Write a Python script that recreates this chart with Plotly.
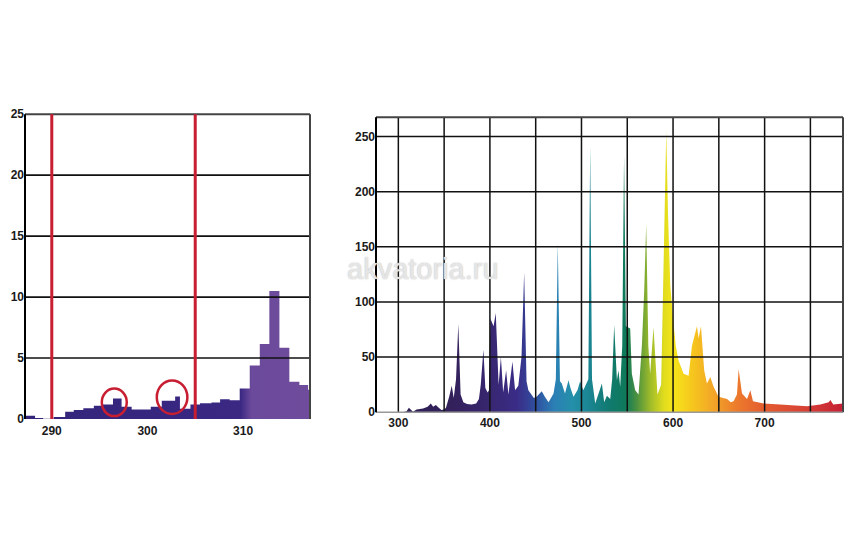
import plotly.graph_objects as go

W, H = 849, 541

# ---------------- Left panel: UV detail histogram ----------------
uv_edges = [287.2, 288.25, 289.1, 290.2, 291.4, 292.3, 293.3, 294.4, 295.2, 296.4,
            297.3, 298.35, 300.35, 301.5, 302.9, 303.4, 304.5, 305.5, 306.7, 307.6,
            308.6, 309.65, 310.7, 311.75, 312.75, 313.8, 314.84, 315.89, 316.8, 317.0]
uv_heights = [0.27, 0.08, 0.03, 0.17, 0.6, 0.75, 0.88, 1.1, 1.2, 1.68,
              1.0, 0.78, 1.0, 1.5, 1.85, 0.85, 1.2, 1.3, 1.36, 1.63,
              1.55, 2.5, 4.4, 6.15, 10.5, 5.85, 3.05, 2.8, 2.4]
uv_xticks = [290, 300, 310]
uv_yticks = [0, 5, 10, 15, 20, 25]
uv_red_lines = [290, 305]
# circles: (x0, x1, y0, y1) in data units
uv_circles = [(295.23, 297.84, 0.24, 2.5), (300.98, 304.18, 0.42, 3.17)]

# ---------------- Right panel: full spectrum ----------------
spec_wl = [305, 309, 311.5, 314, 316, 320, 327, 332, 335.5, 338, 341, 343.5, 347, 350, 352,
           355.5, 358.3, 360.5, 363, 365.5, 368, 371, 375, 380, 385, 388, 390, 392.9, 395,
           397.5, 399, 400.5, 402.5, 404, 406.4, 408.5, 409.5, 412, 414.5, 417.7, 420.2,
           424.6, 427.5, 431, 434.5, 437.4, 440, 442, 445.7, 448, 451, 456.6, 460, 464,
           467.5, 469.5, 472, 474.1, 476.5, 478.5, 482, 485.8, 488, 491.3, 495.6, 498.5,
           502, 505.6, 507.5, 509.5, 511.5, 515, 518.6, 522.3, 524.8, 527.8, 531.4, 533.5,
           535.7, 538.7, 540.4, 542.3, 544.5, 546.5, 548.5, 551.4, 553.2, 555, 558.7, 562.3,
           566, 568.5, 570.7, 573, 575, 578.7, 581, 583, 587, 589.5, 592.6, 594.5, 597,
           600, 603, 606, 611.5, 617, 620.6, 626.1, 627.9, 630.5, 634, 637, 640.7, 644.3,
           649.7, 659, 663, 666.1, 669.8, 671.6, 675.3, 680.8, 684.4, 687.3, 698.9, 717,
           746.3, 760.9, 770, 771.8, 775, 786]
spec_val = [0, 1, 4, 1.5, 0.5, 2.5, 3.5, 5, 8, 5, 6.5, 4.5, 2, 2.5, 4,
            14, 24, 13, 30, 80, 16, 9, 7.5, 7, 8, 12, 25, 57, 22,
            18, 20, 85, 80, 78, 90, 40, 25, 50, 18, 38, 16,
            46, 20, 24, 50, 127, 28, 20, 15, 13, 14, 19, 14, 9,
            14, 17, 30, 153, 28, 26, 17, 29, 22, 14, 20, 28,
            20, 26, 30, 242, 30, 8, 17, 26, 9, 15, 12, 30,
            79, 29, 38, 23, 60, 233, 78, 77, 76, 35, 20, 16,
            61, 110, 171, 60, 35, 77, 40, 16, 25, 120, 255, 180, 115,
            85, 60, 47, 35, 33, 60, 78, 67, 78, 38, 26, 32, 23,
            14, 12, 9, 10, 16, 39, 17, 12, 20, 10, 8, 7,
            5.5, 7, 9, 11, 7, 8]
spec_xticks = [300, 400, 500, 600, 700]
spec_yticks = [0, 50, 100, 150, 200, 250]
spec_xgrid = [300, 350, 400, 450, 500, 550, 600, 650, 700, 750]
spec_ygrid = [50, 100, 150, 200, 250]

# wavelength -> colour stops
wl_stops = [300, 360, 400, 430, 450, 470, 490, 510, 530, 548, 560, 575, 590, 600,
            620, 645, 670, 700, 740, 786]
wl_colors = ["#2d1f55", "#33215c", "#382670", "#3a2d88", "#2f4f9f", "#2b7fb5",
             "#2490aa", "#1a8490", "#117a70", "#0e7a5a", "#4a9040", "#9dbb2a",
             "#e0dc1e", "#f5e51a", "#f6c81d", "#f2a428", "#ec7a2c", "#e45c30",
             "#d84434", "#c51f35"]

fig = go.Figure()

def nrm(v, a, b):
    return (v - a) / (b - a)

# Left histogram (step fill with horizontal gradient)
hx = list(uv_edges)
hy = list(uv_heights) + [uv_heights[-1]]
lo, hi = uv_edges[0], uv_edges[-1]
fig.add_trace(go.Scatter(
    x=hx, y=hy, mode="lines", line=dict(width=0, shape="hv"),
    fill="tozeroy",
    fillgradient=dict(type="horizontal", start=lo, stop=hi,
                      colorscale=[[0, "#34247a"], [nrm(309.7, lo, hi), "#3a2883"],
                                  [nrm(310.9, lo, hi), "#6c4a9b"], [1, "#6f4c9c"]]),
    hoverinfo="skip", showlegend=False, xaxis="x", yaxis="y"))

# Right spectrum
s0, s1 = 300, 786
fig.add_trace(go.Scatter(
    x=spec_wl, y=spec_val, mode="lines", line=dict(width=0),
    fill="tozeroy",
    fillgradient=dict(type="horizontal", start=s0, stop=s1,
                      colorscale=[[nrm(w, s0, s1), c] for w, c in zip(wl_stops, wl_colors)]),
    hoverinfo="skip", showlegend=False, xaxis="x2", yaxis="y2"))

shapes = []
# left gridlines
for v in uv_yticks[1:-1]:
    shapes.append(dict(type="line", xref="x domain", yref="y", x0=0, x1=1, y0=v, y1=v,
                       line=dict(color="#111", width=1.6), layer="above"))
# left borders
shapes.append(dict(type="line", xref="x domain", yref="y domain", x0=0, x1=1, y0=1, y1=1,
                   line=dict(color="#444", width=2), layer="above"))
shapes.append(dict(type="line", xref="x domain", yref="y domain", x0=1, x1=1, y0=0, y1=1,
                   line=dict(color="#444", width=2), layer="above"))
shapes.append(dict(type="line", xref="x domain", yref="y domain", x0=0, x1=0, y0=0, y1=1,
                   line=dict(color="#000", width=2), layer="above"))
# red lines
for v in uv_red_lines:
    shapes.append(dict(type="line", xref="x", yref="y domain", x0=v, x1=v, y0=0, y1=1,
                       line=dict(color="#c81e32", width=3), layer="above"))
# red circles
for (x0, x1, y0, y1) in uv_circles:
    shapes.append(dict(type="circle", xref="x", yref="y", x0=x0, x1=x1, y0=y0, y1=y1,
                       line=dict(color="#c81e32", width=2.5), layer="above"))

# right gridlines
for v in spec_ygrid:
    shapes.append(dict(type="line", xref="x2 domain", yref="y2", x0=0, x1=1, y0=v, y1=v,
                       line=dict(color="#111", width=1.5), layer="above"))
for v in spec_xgrid:
    shapes.append(dict(type="line", xref="x2", yref="y2 domain", x0=v, x1=v, y0=0, y1=1,
                       line=dict(color="#111", width=1.5), layer="above"))
# right borders
shapes.append(dict(type="line", xref="x2 domain", yref="y2 domain", x0=0, x1=1, y0=1, y1=1,
                   line=dict(color="#444", width=2), layer="above"))
shapes.append(dict(type="line", xref="x2 domain", yref="y2 domain", x0=1, x1=1, y0=0, y1=1,
                   line=dict(color="#444", width=2), layer="above"))
shapes.append(dict(type="line", xref="x2 domain", yref="y2 domain", x0=0, x1=1, y0=0, y1=0,
                   line=dict(color="#999", width=1.5), layer="above"))
shapes.append(dict(type="line", xref="x2 domain", yref="y2 domain", x0=0, x1=0, y0=0, y1=1,
                   line=dict(color="#000", width=2), layer="above"))

tickfont = dict(family="Liberation Sans", size=12, color="#1a1a1a", weight="bold")

def px_x(a, b):
    return [a / W, b / W]

def px_y(top, bottom):
    return [1 - bottom / H, 1 - top / H]

fig.update_layout(
    width=W, height=H,
    margin=dict(l=0, r=0, t=0, b=0),
    paper_bgcolor="white", plot_bgcolor="white",
    showlegend=False,
    shapes=shapes,
    xaxis=dict(domain=px_x(25, 310), range=[uv_edges[0], uv_edges[-1]], tickvals=uv_xticks,
               showgrid=False, zeroline=False, showline=False, ticks="", tickfont=tickfont,
               ticklabelstandoff=3, anchor="y", fixedrange=True),
    yaxis=dict(domain=px_y(110, 423), range=[0, 25], tickvals=uv_yticks,
               showgrid=False, zeroline=False, showline=False, ticks="", tickfont=tickfont,
               anchor="x", fixedrange=True),
    xaxis2=dict(domain=px_x(376, 843), range=[275.6, 785.6], tickvals=spec_xticks,
                showgrid=False, zeroline=False, showline=False, ticks="", tickfont=tickfont,
                ticklabelstandoff=2, anchor="y2", fixedrange=True),
    yaxis2=dict(domain=px_y(113.3, 416), range=[0, 267.4], tickvals=spec_yticks,
                showgrid=False, zeroline=False, showline=False, ticks="", tickfont=tickfont,
                anchor="x2", fixedrange=True),
    annotations=[dict(text="akvatoria.ru", x=423 / W, y=1 - 269 / H, xref="paper", yref="paper",
                      showarrow=False, xanchor="center", yanchor="middle",
                      font=dict(family="Liberation Sans", size=29, color="rgba(236,236,236,0.9)",
                                shadow="0px 0px 1.5px #a8a8a8"))],
)

fig.write_html("out.html")
